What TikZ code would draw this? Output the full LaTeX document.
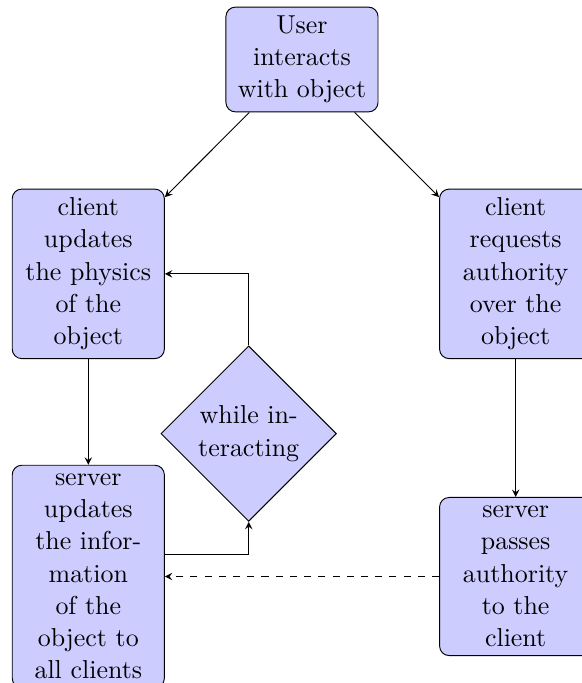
\documentclass[11pt,tikz,border=0pt]{standalone}
\usepackage{tikz}
\usetikzlibrary{arrows.meta, shapes.geometric, calc}
\definecolor{boxblue}{RGB}{204,204,255}

\begin{document}
\begin{tikzpicture}[
    block/.style={rectangle, draw, fill=boxblue, rounded corners, text width=2cm, align=center},
    decision/.style={diamond, draw, fill=boxblue, aspect=1, inner sep=2pt, align=center},
    flow/.style={-stealth}
]
    % Define dimensions
    \def\colsep{3.17}
    \def\rowone{3.18}
    \def\rowtwo{7.67}

    % Fix the page size
    \useasboundingbox (-4.48,0.883) rectangle (4.15,-9.25);

    % Top node
    \node[block] (user) at (0,0) {User\\interacts\\with object};

    % Client side (left)
    \node[block] (clientphys) at (-\colsep,-\rowone) {client\\updates\\the physics\\of the\\object};
    \node[block] (serverinfo) at (-\colsep,-\rowtwo) {server\\updates\\the infor-\\mation\\of the\\object to\\all clients};

    % Authority side (right)
    \node[block] (clientauth) at (\colsep,-\rowone) {client\\requests\\authority\\over the\\object};
    \node[block] (serverauth) at (\colsep,-\rowtwo) {server\\passes\\authority\\to the\\client};

    % Loop decision
    \node[decision] (loop) at (-0.79,-5.55) {while in-\\teracting};

    % Arrows
    \draw[flow] (user) -- (clientphys);
    \draw[flow] (user) -- (clientauth);
    \draw[flow] (clientphys) -- (serverinfo);
    \draw[flow] (clientauth) -- (serverauth);
    \draw[flow, dashed] (serverauth) -- (serverinfo);
    \draw[flow] ([yshift=0.32cm]serverinfo.east) -| (loop.south);
    \draw[flow] (loop.north) |- (clientphys);
\end{tikzpicture}
\end{document}
